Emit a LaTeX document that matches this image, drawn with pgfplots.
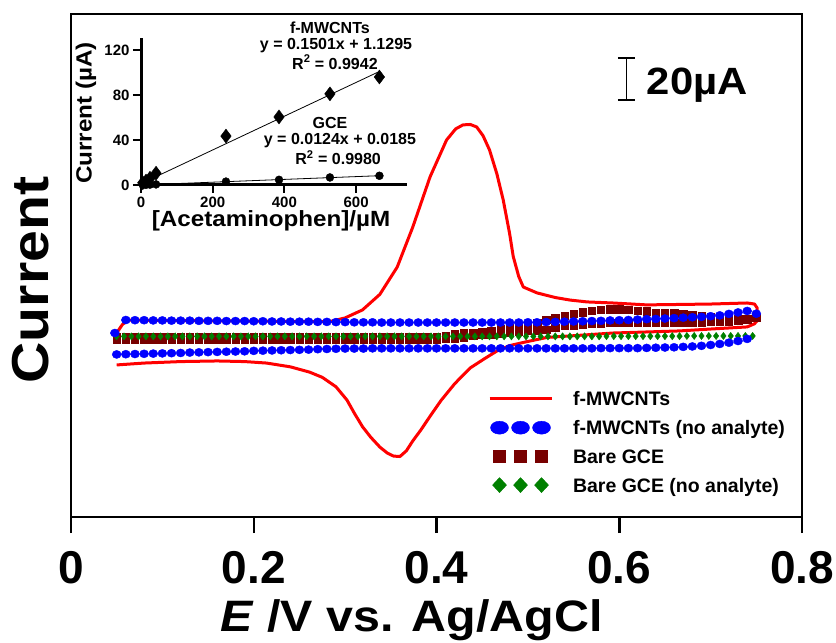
\documentclass[border=0pt]{standalone}
\usepackage{fontspec}
\setmainfont{Liberation Sans}
\newfontfamily\widefont{Liberation Sans}[FakeStretch=1.1]
\usepackage{pgfplots}
\pgfplotsset{compat=1.18}

\definecolor{cvred}{RGB}{255,0,0}
\definecolor{cvblue}{RGB}{0,0,255}
\definecolor{cvbrown}{RGB}{120,0,0}
\definecolor{cvgreen}{RGB}{0,128,0}
\newcommand{\fs}[1]{\fontsize{#1}{#1}\selectfont}

\begin{document}
\begin{tikzpicture}
% main CV plot (y in uA, offset arbitrary)
\begin{axis}[
    at={(71pt,126pt)}, anchor=south west,
    scale only axis, width=731pt, height=503pt,
    xmin=0, xmax=0.8, ymin=0, ymax=239.5,
    axis line style={line width=2.5pt},
    xtick={0,0.2,0.4,0.6,0.8}, ytick=\empty,
    xtick pos=bottom, tick align=outside,
    major tick length=16pt,
    every tick/.style={black, line width=2.5pt},
    /pgf/number format/assume math mode=true,
    xticklabel style={font=\bfseries\fs{46}, yshift=-15pt},
    xlabel={\textit{E} /V vs. Ag/AgCl},
    xlabel style={at={(axis description cs:0.466,-0.2286)}, anchor=base,
        font=\widefont\bfseries\fs{44}},
    ylabel={Current},
    ylabel style={at={(axis description cs:-0.0547,0.471)}, anchor=center,
        rotate=0, font=\widefont\bfseries\fs{52}},
    legend style={at={(rel axis cs:0.5705,0.2525)}, anchor=north west,
        draw=none, fill=none, inner sep=0pt, outer sep=0pt,
        font=\bfseries\fs{19.5}, row sep=10.7pt, column sep=20pt,
        nodes={inner sep=0pt, text height=16pt, text depth=2pt}},
    legend cell align=left,
]
\addlegendimage{legend image code/.code={\draw[cvred, line width=3pt] (0pt,0pt) -- (62pt,0pt);}}
\addlegendentry{f-MWCNTs}
\addlegendimage{legend image code/.code={\fill[cvblue] (10pt,0pt) ellipse [x radius=9pt, y radius=6.5pt]
    (31pt,0pt) ellipse [x radius=9pt, y radius=6.5pt] (52pt,0pt) ellipse [x radius=9pt, y radius=6.5pt];}}
\addlegendentry{f-MWCNTs (no analyte)}
\addlegendimage{legend image code/.code={\fill[cvbrown] (4pt,-6pt) rectangle (16pt,6pt)
    (25pt,-6pt) rectangle (37pt,6pt) (46pt,-6pt) rectangle (58pt,6pt);}}
\addlegendentry{Bare GCE}
\addlegendimage{legend image code/.code={\fill[cvgreen] (3pt,0pt) -- (10pt,7.5pt) -- (17pt,0pt) -- (10pt,-7.5pt) -- cycle
    (24pt,0pt) -- (31pt,7.5pt) -- (38pt,0pt) -- (31pt,-7.5pt) -- cycle
    (45pt,0pt) -- (52pt,7.5pt) -- (59pt,0pt) -- (52pt,-7.5pt) -- cycle;}}
\addlegendentry{Bare GCE (no analyte)}

% f-MWCNTs with acetaminophen
\addplot[cvred, line width=3pt, line join=round, forget plot] coordinates {
(0.050,87.6)(0.056,91.5)(0.062,93.8)(0.10,93.6)(0.15,93.4)(0.20,93.3)(0.25,93.0)(0.283,93.0)
(0.300,94.8)(0.319,98.6)(0.338,106.0)(0.357,119.0)(0.374,138.0)(0.393,162.0)(0.411,179.5)
(0.421,184.8)(0.429,186.7)(0.437,186.9)(0.444,185.7)(0.451,181.5)(0.458,174.8)(0.466,163.5)
(0.473,151.0)(0.480,135.0)(0.484,124.0)(0.490,114.5)(0.495,109.5)(0.510,106.7)(0.530,104.5)
(0.546,103.3)(0.565,102.4)(0.593,101.9)(0.630,101.0)(0.666,101.2)(0.700,101.4)(0.740,101.9)
(0.748,101.4)(0.751,99.5)(0.751,93.5)(0.748,92.0)
(0.740,90.5)(0.700,89.5)(0.666,88.6)(0.630,88.1)(0.593,87.6)(0.546,86.2)(0.521,85.5)
(0.510,84.5)(0.497,83.3)(0.480,81.6)(0.466,79.0)(0.453,75.5)(0.437,71.0)(0.420,63.5)
(0.405,55.5)(0.393,48.0)(0.383,41.5)(0.374,36.2)(0.367,31.5)(0.360,28.8)(0.353,29.0)
(0.346,30.5)(0.338,33.3)(0.328,38.0)(0.319,43.0)(0.310,49.5)(0.302,55.7)(0.290,62.0)
(0.275,66.5)(0.261,69.0)(0.240,71.5)(0.214,73.3)(0.190,74.0)(0.160,74.3)(0.120,74.0)
(0.080,73.3)(0.050,72.4)
};

% bare GCE with acetaminophen
\addplot[only marks, mark=square*, mark size=3.7pt, cvbrown, forget plot] coordinates {
(0.05,85.7)(0.06,85.7)(0.07,85.7)(0.08,85.7)(0.09,85.7)(0.10,85.7)(0.11,85.7)(0.12,85.7)(0.13,85.7)(0.14,85.7)
(0.15,85.7)(0.16,85.7)(0.17,85.7)(0.18,85.7)(0.19,85.7)(0.20,85.7)(0.21,85.7)(0.22,85.7)(0.23,85.7)(0.24,85.7)
(0.25,85.7)(0.26,85.7)(0.27,85.7)(0.28,85.7)(0.29,85.7)(0.30,85.7)(0.31,85.7)(0.32,85.7)(0.33,85.7)(0.34,85.7)
(0.35,85.7)(0.36,85.7)(0.37,85.7)(0.38,85.7)(0.39,85.7)(0.40,85.9)(0.41,86.4)(0.42,87.1)(0.43,87.6)(0.44,87.8)
(0.45,88.1)(0.46,88.6)(0.47,89.4)(0.48,90.0)(0.49,90.6)(0.50,91.5)(0.51,92.6)(0.52,93.9)(0.53,94.8)(0.54,95.9)
(0.55,96.9)(0.56,97.6)(0.57,98.1)(0.58,98.6)(0.59,98.9)(0.60,99.0)(0.61,98.8)(0.62,98.3)(0.63,97.9)(0.64,97.4)
(0.65,97.1)(0.66,97.0)(0.67,96.6)(0.68,96.2)(0.69,95.7)(0.70,95.3)(0.71,94.9)(0.72,94.8)(0.73,94.4)(0.74,94.3)
(0.75,95.0)
(0.74,93.8)(0.73,93.4)(0.72,93.3)(0.71,93.3)(0.70,93.0)(0.69,92.8)(0.68,92.5)(0.67,92.4)(0.66,92.4)(0.65,92.4)
(0.64,92.4)(0.63,92.4)(0.62,92.4)(0.61,92.4)(0.60,92.4)(0.59,92.4)(0.58,92.3)(0.57,92.0)(0.56,91.7)(0.55,91.4)
(0.54,91.0)(0.53,90.2)(0.52,89.3)(0.51,88.9)(0.50,88.6)(0.49,88.2)(0.48,87.9)(0.47,87.5)(0.46,87.1)(0.45,86.7)
(0.44,86.2)(0.43,85.7)(0.42,85.2)(0.41,84.8)(0.40,84.5)(0.39,84.5)(0.38,84.5)(0.37,84.5)(0.36,84.5)(0.35,84.5)
(0.34,84.5)(0.33,84.5)(0.32,84.5)(0.31,84.5)(0.30,84.5)(0.29,84.5)(0.28,84.5)(0.27,84.5)(0.26,84.5)(0.25,84.5)
(0.24,84.5)(0.23,84.5)(0.22,84.5)(0.21,84.5)(0.20,84.5)(0.19,84.5)(0.18,84.5)(0.17,84.5)(0.16,84.5)(0.15,84.5)
(0.14,84.5)(0.13,84.5)(0.12,84.5)(0.11,84.5)(0.10,84.5)(0.09,84.5)(0.08,84.5)(0.07,84.5)(0.06,84.5)(0.05,84.5)
};

% bare GCE, no analyte
\addplot[only marks, mark=diamond*, mark size=3.6pt, cvgreen, forget plot] coordinates {
(0.050,86.0)(0.058,86.0)(0.066,86.0)(0.074,86.0)(0.082,86.0)(0.090,86.0)(0.098,86.0)(0.106,86.0)(0.114,86.0)(0.122,86.0)
(0.130,86.0)(0.138,86.0)(0.146,86.0)(0.154,86.0)(0.162,86.0)(0.170,86.0)(0.178,86.0)(0.186,86.0)(0.194,86.0)(0.202,86.0)
(0.210,86.0)(0.218,86.0)(0.226,86.0)(0.234,86.0)(0.242,86.0)(0.250,86.0)(0.258,86.0)(0.266,86.0)(0.274,86.0)(0.282,86.0)
(0.290,86.0)(0.298,86.0)(0.306,86.0)(0.314,86.0)(0.322,86.0)(0.330,86.0)(0.338,86.0)(0.346,86.0)(0.354,86.0)(0.362,86.0)
(0.370,86.0)(0.378,86.0)(0.386,86.0)(0.394,86.0)(0.402,86.0)(0.410,86.0)(0.418,86.0)(0.426,86.0)(0.434,86.0)(0.442,86.0)
(0.450,86.0)(0.458,86.0)(0.466,86.0)(0.474,86.0)(0.482,86.0)(0.490,86.0)(0.498,86.0)(0.506,86.0)(0.514,86.0)(0.522,86.0)
(0.530,86.0)(0.538,86.0)(0.546,86.0)(0.554,86.0)(0.562,86.0)(0.570,86.0)(0.578,86.0)(0.586,86.1)(0.594,86.1)(0.602,86.1)
(0.610,86.1)(0.618,86.1)(0.626,86.1)(0.634,86.1)(0.642,86.1)(0.650,86.1)(0.658,86.1)(0.666,86.1)(0.674,86.2)(0.682,86.2)
(0.690,86.2)(0.698,86.2)(0.706,86.2)(0.714,86.2)(0.722,86.2)(0.730,86.2)(0.738,86.2)(0.746,86.2)
};

% f-MWCNTs, no analyte
\addplot[only marks, mark=*, mark size=4.5pt, mark options={yscale=0.9}, cvblue, forget plot] coordinates {
(0.048,87.6)(0.06,93.8)(0.07,93.7)(0.08,93.7)(0.09,93.6)(0.10,93.6)(0.11,93.5)(0.12,93.5)(0.13,93.5)(0.14,93.4)
(0.15,93.4)(0.16,93.4)(0.17,93.3)(0.18,93.3)(0.19,93.3)(0.20,93.2)(0.21,93.2)(0.22,93.1)(0.23,93.1)(0.24,93.0)
(0.25,93.0)(0.26,93.0)(0.27,92.9)(0.28,92.9)(0.29,92.8)(0.30,92.8)(0.31,92.7)(0.32,92.7)(0.33,92.7)(0.34,92.6)
(0.35,92.6)(0.36,92.6)(0.37,92.6)(0.38,92.6)(0.39,92.6)(0.40,92.6)(0.41,92.6)(0.42,92.6)(0.43,92.6)(0.44,92.6)
(0.45,92.6)(0.46,92.6)(0.47,92.6)(0.48,92.6)(0.49,92.6)(0.50,92.7)(0.51,92.7)(0.52,92.8)(0.53,92.9)(0.54,93.0)
(0.55,93.1)(0.56,93.2)(0.57,93.3)(0.58,93.4)(0.59,93.6)(0.60,93.7)(0.61,93.8)(0.62,94.0)(0.63,94.2)(0.64,94.3)
(0.65,94.5)(0.66,94.7)(0.67,94.9)(0.68,95.1)(0.69,95.3)(0.70,95.6)(0.71,96.0)(0.72,96.7)(0.73,97.4)(0.74,98.1)
(0.75,96.8)
(0.74,84.8)(0.73,83.8)(0.72,83.0)(0.71,82.4)(0.70,81.9)(0.69,81.5)(0.68,81.2)(0.67,81.0)(0.66,80.8)(0.65,80.7)
(0.64,80.6)(0.63,80.5)(0.62,80.4)(0.61,80.4)(0.60,80.4)(0.59,80.4)(0.58,80.4)(0.57,80.3)(0.56,80.3)(0.55,80.3)
(0.54,80.3)(0.53,80.3)(0.52,80.3)(0.51,80.3)(0.50,80.3)(0.49,80.3)(0.48,80.3)(0.47,80.3)(0.46,80.3)(0.45,80.3)
(0.44,80.3)(0.43,80.3)(0.42,80.3)(0.41,80.3)(0.40,80.3)(0.39,80.3)(0.38,80.3)(0.37,80.3)(0.36,80.3)(0.35,80.3)
(0.34,80.3)(0.33,80.3)(0.32,80.2)(0.31,80.2)(0.30,80.2)(0.29,80.1)(0.28,80.0)(0.27,79.9)(0.26,79.7)(0.25,79.6)
(0.24,79.5)(0.23,79.4)(0.22,79.3)(0.21,79.2)(0.20,79.1)(0.19,78.9)(0.18,78.8)(0.17,78.7)(0.16,78.6)(0.15,78.5)
(0.14,78.4)(0.13,78.3)(0.12,78.1)(0.11,78.0)(0.10,77.9)(0.09,77.8)(0.08,77.7)(0.07,77.6)(0.06,77.5)(0.05,77.4)
};

% 20 uA scale bar
\draw[line width=1.6pt] (axis cs:0.5985,218.6) -- (axis cs:0.6171,218.6)
    (axis cs:0.6078,218.6) -- (axis cs:0.6078,198.6)
    (axis cs:0.5985,198.6) -- (axis cs:0.6171,198.6);
\node[anchor=base west, font=\widefont\bfseries\fs{38}, inner sep=0pt] at (axis cs:0.630,201) {20µA};
\end{axis}

% inset: calibration plots
\begin{axis}[
    at={(141pt,458pt)}, anchor=south west,
    scale only axis, width=266pt, height=147pt,
    xmin=0, xmax=742, ymin=0, ymax=130.7,
    axis x line*=bottom, axis y line*=left,
    axis line style={line width=3pt, -},
    xtick={0,200,400,600}, ytick={0,40,80,120},
    tick align=outside, major tick length=8pt,
    every tick/.style={black, line width=2pt},
    /pgf/number format/assume math mode=true,
    tick label style={font=\bfseries\fs{15}},
    xlabel={[Acetaminophen]/µM},
    xlabel style={at={(axis description cs:0.489,-0.2857)}, anchor=base,
        font=\widefont\bfseries\fs{22}},
    ylabel={Current (µA)},
    ylabel style={at={(axis description cs:-0.2068,0.49)}, anchor=center,
        rotate=0, font=\widefont\bfseries\fs{22}},
    clip=false,
]
\addplot[black, line width=0.8pt] coordinates {(0,1.13)(665,100.95)};
\addplot[black, line width=0.8pt] coordinates {(0,0.02)(665,8.27)};
\addplot[only marks, mark=diamond*, mark size=7pt, black] coordinates {
(5,2.0)(14,3.5)(25,6.0)(42,10.5)(237,43.5)(385,60.5)(527,81.0)(665,96.0)};
\addplot[only marks, mark=*, mark size=4pt, black] coordinates {
(5,0.1)(14,0.2)(25,0.35)(42,0.55)(237,3.0)(385,4.6)(527,6.7)(665,8.2)};
\begin{scope}[every node/.style={font=\bfseries\fs{16}, inner sep=0pt}]
\node at (axis cs:527,139.6) {f-MWCNTs};
\node at (axis cs:544,124.4) {y = 0.1501x + 1.1295};
\node at (axis cs:541,109.3) {R\textsuperscript{2} = 0.9942};
\node at (axis cs:527,55.0) {GCE};
\node at (axis cs:555,39.5) {y = 0.0124x + 0.0185};
\node at (axis cs:550,24.5) {R\textsuperscript{2} = 0.9980};
\end{scope}
\end{axis}
\pgfresetboundingbox
\path (0pt,0pt) rectangle (836pt,643pt);
\end{tikzpicture}
\end{document}
